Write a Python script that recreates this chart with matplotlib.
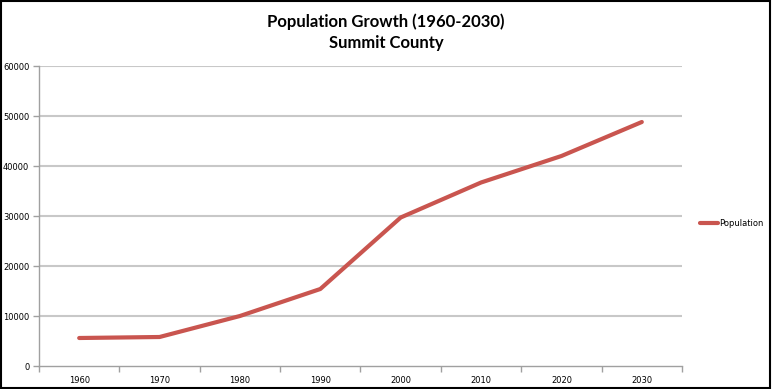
import matplotlib
matplotlib.use("Agg")
import matplotlib.pyplot as plt
from matplotlib.patches import Rectangle
import numpy as np

years = ["1960", "1970", "1980", "1990", "2000", "2010", "2020", "2030"]
population = [5600, 5800, 10000, 15400, 29700, 36700, 42000, 48800]
yticks = [0, 10000, 20000, 30000, 40000, 50000, 60000]

fig = plt.figure(figsize=(7.72, 3.89), dpi=100)
ax = fig.add_axes([39/772, 23/389, (682-39)/772, (366-66)/389])

x = np.arange(len(years))
line, = ax.plot(x, population, color="#C9554F", lw=3.0, solid_capstyle="round",
                solid_joinstyle="round", label="Population", zorder=3)

ax.set_xlim(-0.5, len(years) - 0.5)
ax.set_ylim(0, 60000)
ax.set_yticks(yticks)
ax.set_yticklabels([str(v) for v in yticks], fontsize=6, family="DejaVu Sans")
ax.set_xticks(x)
ax.set_xticklabels(years, fontsize=6, family="DejaVu Sans")
ax.set_xticks(np.arange(-0.5, len(years)), minor=True)
ax.tick_params(axis="x", which="major", length=0, pad=7)
ax.tick_params(axis="x", which="minor", length=4, color="#a0a0a0", width=1)
ax.tick_params(axis="y", length=4, color="#a0a0a0", width=1, pad=3)

for v in yticks[1:]:
    ax.axhline(v, color="#c8c8c8", lw=1.5, zorder=1)

for s in ["top", "right"]:
    ax.spines[s].set_visible(False)
for s in ["left", "bottom"]:
    ax.spines[s].set_color("#a0a0a0")
    ax.spines[s].set_linewidth(1)

fig.text(0.5, 1 - 22/389, "Population Growth (1960-2030)", ha="center", va="center",
         fontsize=12, fontweight="bold", family="Lato")
fig.text(0.5, 1 - 43/389, "Summit County", ha="center", va="center",
         fontsize=12, fontweight="bold", family="Lato")

fig.legend(handles=[line], labels=["Population"], loc="center left",
           bbox_to_anchor=(692/772, 1 - 223/389),
           frameon=False, handlelength=2.2, handletextpad=0.1,
           prop={"family": "DejaVu Sans", "size": 6})

fig.patches.append(Rectangle((0.001, 0.002), 0.997, 0.995, transform=fig.transFigure,
                             fill=False, edgecolor="black", lw=1.5))

fig.savefig("out.png", dpi=100)
